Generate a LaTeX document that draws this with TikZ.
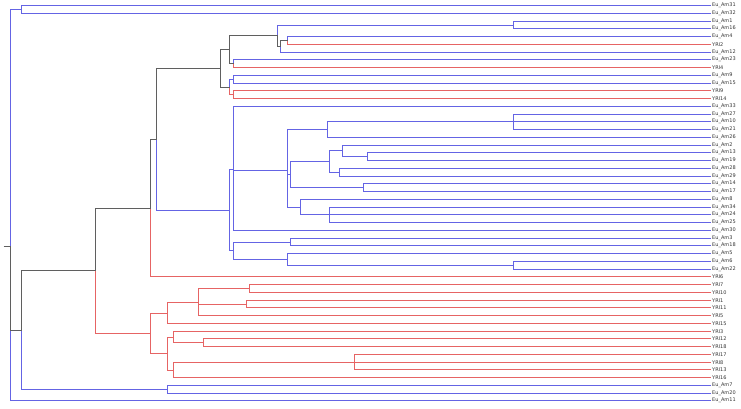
\documentclass[tikz,border=0pt]{standalone}
\usepackage{fontspec}
\setmainfont{DejaVu Sans}
\usepackage{tikz}
\definecolor{eublue}{RGB}{100,100,228}
\definecolor{yrired}{RGB}{230,100,100}
\definecolor{mixgray}{RGB}{95,95,95}
\tikzset{
  eu/.style   = {draw=eublue, line width=1pt},
  yri/.style  = {draw=yrired, line width=1pt},
  mix/.style  = {draw=mixgray, line width=1pt},
  leaf/.style = {anchor=west, inner sep=1pt, text=black!80,
                 font=\fontsize{5}{6}\selectfont},
}

\begin{document}
\begin{tikzpicture}[x=1pt, y=-1pt]
  \useasboundingbox (0,0) rectangle (741,408);
  % leaves, top to bottom
  \foreach \nm/\tx [count=\i] in {am31/Eu\_Am31, am32/Eu\_Am32, am1/Eu\_Am1,
      am16/Eu\_Am16, am4/Eu\_Am4, yri2/YRI2, am12/Eu\_Am12, am23/Eu\_Am23,
      yri4/YRI4, am9/Eu\_Am9, am15/Eu\_Am15, yri9/YRI9, yri14/YRI14,
      am33/Eu\_Am33, am27/Eu\_Am27, am10/Eu\_Am10, am21/Eu\_Am21,
      am26/Eu\_Am26, am2/Eu\_Am2, am13/Eu\_Am13, am19/Eu\_Am19,
      am28/Eu\_Am28, am29/Eu\_Am29, am14/Eu\_Am14, am17/Eu\_Am17,
      am8/Eu\_Am8, am34/Eu\_Am34, am24/Eu\_Am24, am25/Eu\_Am25,
      am30/Eu\_Am30, am3/Eu\_Am3, am18/Eu\_Am18, am5/Eu\_Am5, am6/Eu\_Am6,
      am22/Eu\_Am22, yri6/YRI6, yri7/YRI7, yri10/YRI10, yri1/YRI1,
      yri11/YRI11, yri5/YRI5, yri15/YRI15, yri3/YRI3, yri12/YRI12,
      yri18/YRI18, yri17/YRI17, yri8/YRI8, yri13/YRI13, yri16/YRI16,
      am7/Eu\_Am7, am20/Eu\_Am20, am11/Eu\_Am11}
    \node[leaf] (\nm) at (711,{floor(5.7+(\i-1)*7.75)+0.5}) {\tx};

  % joins
  \coordinate (base)  at (3.5,246.5);
  \coordinate (root)  at (10.5,246.5);
  \coordinate (k3132) at (21.5,9.5);
  \coordinate (kmain) at (21.5,330.5);
  \coordinate (kmix)  at (95.5,270.5);
  \coordinate (kup)   at (150.5,208.5);
  \coordinate (kyri)  at (150.5,333.5);
  \coordinate (kg)    at (156.5,139.5);
  \coordinate (kh)    at (220.5,68.5);
  \coordinate (kj)    at (229.5,49.5);
  \coordinate (ko)    at (277.5,35.5);
  \coordinate (k116)  at (513.5,25.5);
  \coordinate (kn)    at (280.5,46.5);
  \coordinate (km)    at (287.5,40.5);
  \coordinate (kp)    at (233.5,63.5);
  \coordinate (kk)    at (229.5,87.5);
  \coordinate (kq)    at (233.5,79.5);
  \coordinate (kr)    at (233.5,94.5);
  \coordinate (ki)    at (229.5,210.5);
  \coordinate (ks)    at (233.5,169.5);
  \coordinate (ku)    at (287.5,170.5);
  \coordinate (kz2)   at (327.5,129.5);
  \coordinate (kz1)   at (513.5,121.5);
  \coordinate (kz8)   at (290.5,174.5);
  \coordinate (kz6)   at (329.5,161.5);
  \coordinate (kz4)   at (342.5,150.5);
  \coordinate (kz3)   at (367.5,156.5);
  \coordinate (kz5)   at (339.5,172.5);
  \coordinate (kz7)   at (363.5,187.5);
  \coordinate (kz9)   at (300.5,207.5);
  \coordinate (kz10)  at (329.5,214.5);
  \coordinate (kt)    at (233.5,250.5);
  \coordinate (kv)    at (290.5,242.5);
  \coordinate (kw)    at (287.5,259.5);
  \coordinate (kx)    at (513.5,265.5);
  \coordinate (kf1)   at (167.5,313.5);
  \coordinate (kf2)   at (198.5,302.5);
  \coordinate (kf3)   at (249.5,288.5);
  \coordinate (kf4)   at (246.5,304.5);
  \coordinate (kf5)   at (167.5,353.5);
  \coordinate (kf6)   at (173.5,337.5);
  \coordinate (kf8)   at (203.5,342.5);
  \coordinate (kf7)   at (173.5,370.5);
  \coordinate (kf9)   at (354.5,362.5);
  \coordinate (kd)    at (167.5,389.5);

  % Eu_Am branches
  \foreach \p/\c in {root/am11, root/k3132, k3132/am31, k3132/am32,
      kmain/kd, kd/am7, kd/am20, ko/k116, k116/am1, k116/am16, kn/am12,
      km/am4, kp/am23, kk/kq, kq/am9, kq/am15, kg/ki, ki/ks, ki/kt,
      ks/am33, ks/ku, ks/am30, ku/kz2, ku/kz8, ku/kz9, kz2/kz1, kz2/am26,
      kz1/am27, kz1/am10, kz1/am21, kz8/kz6, kz8/kz7, kz6/kz4, kz6/kz5,
      kz4/am2, kz4/kz3, kz3/am13, kz3/am19, kz5/am28, kz5/am29, kz7/am14,
      kz7/am17, kz9/am8, kz9/kz10, kz10/am34, kz10/am24, kz10/am25,
      kt/kv, kt/kw, kv/am3, kv/am18, kw/am5, kw/kx, kx/am6, kx/am22}
    \draw[eu] (\p) |- (\c);
  % YRI branches
  \foreach \p/\c in {kmix/kyri, kup/yri6, km/yri2, kp/yri4, kk/kr,
      kr/yri9, kr/yri14, kyri/kf1, kyri/kf5, kf1/kf2, kf1/yri15,
      kf2/kf3, kf2/kf4, kf2/yri5, kf3/yri7, kf3/yri10, kf4/yri1,
      kf4/yri11, kf5/kf6, kf5/kf7, kf6/yri3, kf6/kf8, kf8/yri12,
      kf8/yri18, kf7/kf9, kf7/yri16, kf9/yri17, kf9/yri8, kf9/yri13}
    \draw[yri] (\p) |- (\c);
  % mixed branches
  \draw[mix] (base) -- (root);
  \foreach \p/\c in {root/kmain, kmain/kmix, kmix/kup, kup/kg, kg/kh,
      kh/kj, kh/kk, kj/ko, kj/kp, ko/kn, kn/km}
    \draw[mix] (\p) |- (\c);
\end{tikzpicture}
\end{document}
